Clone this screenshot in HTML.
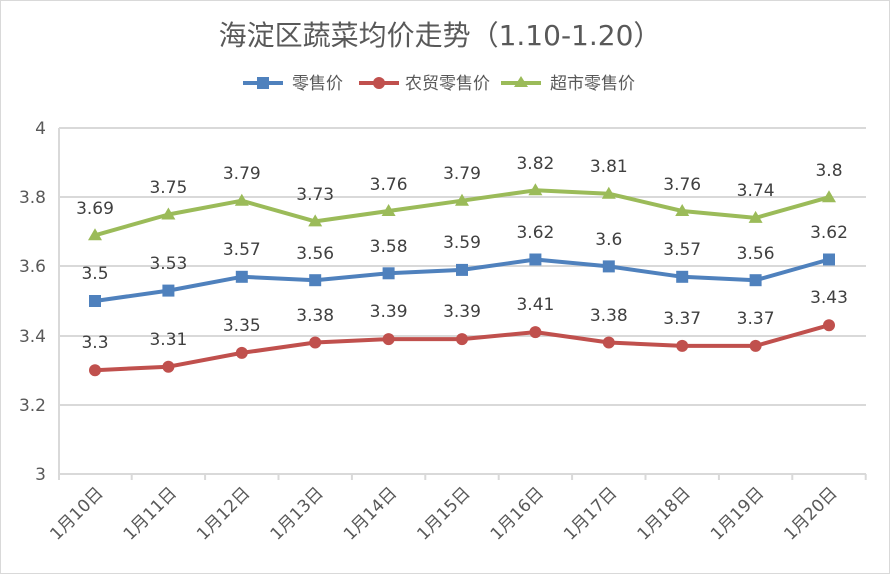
<!DOCTYPE html>
<html><head><meta charset="utf-8"><style>
html,body{margin:0;padding:0;background:#fff;}
svg{display:block;font-family:"DejaVu Sans","Liberation Sans","Noto Sans CJK SC",sans-serif;}
</style></head><body>
<svg width="890" height="574" viewBox="0 0 890 574">
<rect x="0.5" y="0.5" width="889" height="573" fill="#fff" stroke="#d9d9d9"/>
<text x="440" y="45" text-anchor="middle" font-size="28" fill="#595959" font-family="'DejaVu Sans','Noto Sans CJK SC',sans-serif">海淀区蔬菜均价走势（1.10-1.20）</text>
<g font-size="17" fill="#595959" font-family="'Noto Sans CJK SC',sans-serif">
<line x1="243" y1="83" x2="283" y2="83" stroke="#4f81bd" stroke-width="4"/><rect x="257" y="77" width="12" height="12" fill="#4f81bd"/>
<text x="292" y="89">零售价</text>
<line x1="359" y1="83" x2="399" y2="83" stroke="#c0504d" stroke-width="4"/><circle cx="379" cy="83" r="6" fill="#c0504d"/>
<text x="405" y="89">农贸零售价</text>
<line x1="501" y1="83" x2="541" y2="83" stroke="#9bbb59" stroke-width="4"/><polygon points="521,76 528,87 514,87" fill="#9bbb59"/>
<text x="550" y="89">超市零售价</text>
</g>
<g stroke="#d9d9d9" stroke-width="2">
<line x1="59" y1="128" x2="866" y2="128"/><line x1="59" y1="197" x2="866" y2="197"/>
<line x1="59" y1="266" x2="866" y2="266"/><line x1="59" y1="336" x2="866" y2="336"/>
<line x1="59" y1="405" x2="866" y2="405"/><line x1="59" y1="474" x2="866" y2="474"/>
<line x1="59" y1="128" x2="59" y2="480"/>
<line x1="131.7" y1="474" x2="131.7" y2="480"/><line x1="205.1" y1="474" x2="205.1" y2="480"/>
<line x1="278.5" y1="474" x2="278.5" y2="480"/><line x1="351.9" y1="474" x2="351.9" y2="480"/>
<line x1="425.3" y1="474" x2="425.3" y2="480"/><line x1="498.7" y1="474" x2="498.7" y2="480"/>
<line x1="572.1" y1="474" x2="572.1" y2="480"/><line x1="645.5" y1="474" x2="645.5" y2="480"/>
<line x1="718.9" y1="474" x2="718.9" y2="480"/><line x1="792.3" y1="474" x2="792.3" y2="480"/>
<line x1="865.7" y1="474" x2="865.7" y2="480"/>
</g>
<g font-size="17" fill="#595959" text-anchor="end">
<text x="46" y="134">4</text><text x="46" y="203">3.8</text><text x="46" y="272">3.6</text>
<text x="46" y="342">3.4</text><text x="46" y="411">3.2</text><text x="46" y="480">3</text>
</g>
<g font-size="17" fill="#595959" text-anchor="end" font-family="'DejaVu Sans','Noto Sans CJK SC',sans-serif">
<text transform="translate(104,494) rotate(-45)">1月10日</text>
<text transform="translate(177.4,494) rotate(-45)">1月11日</text>
<text transform="translate(250.8,494) rotate(-45)">1月12日</text>
<text transform="translate(324.2,494) rotate(-45)">1月13日</text>
<text transform="translate(397.6,494) rotate(-45)">1月14日</text>
<text transform="translate(471,494) rotate(-45)">1月15日</text>
<text transform="translate(544.4,494) rotate(-45)">1月16日</text>
<text transform="translate(617.8,494) rotate(-45)">1月17日</text>
<text transform="translate(691.2,494) rotate(-45)">1月18日</text>
<text transform="translate(764.6,494) rotate(-45)">1月19日</text>
<text transform="translate(838,494) rotate(-45)">1月20日</text>
</g>
<g fill="none" stroke-width="4" stroke-linejoin="round">
<polyline stroke="#9bbb59" points="95,235.3 168.4,214.5 241.8,200.7 315.2,221.4 388.6,211 462,200.7 535.4,190.3 608.8,193.7 682.2,211 755.6,217.9 829,197.2"/>
<polyline stroke="#4f81bd" points="95,301 168.4,290.6 241.8,276.8 315.2,280.2 388.6,273.3 462,269.9 535.4,259.5 608.8,266.4 682.2,276.8 755.6,280.2 829,259.5"/>
<polyline stroke="#c0504d" points="95,370.2 168.4,366.7 241.8,352.9 315.2,342.5 388.6,339.1 462,339.1 535.4,332.1 608.8,342.5 682.2,345.9 755.6,345.9 829,325.2"/>
</g>
<g fill="#9bbb59">
<polygon points="95,228.3 102,240.3 88,240.3"/><polygon points="168.4,207.5 175.4,219.5 161.4,219.5"/>
<polygon points="241.8,193.7 248.8,205.7 234.8,205.7"/><polygon points="315.2,214.4 322.2,226.4 308.2,226.4"/>
<polygon points="388.6,204 395.6,216 381.6,216"/><polygon points="462,193.7 469,205.7 455,205.7"/>
<polygon points="535.4,183.3 542.4,195.3 528.4,195.3"/><polygon points="608.8,186.7 615.8,198.7 601.8,198.7"/>
<polygon points="682.2,204 689.2,216 675.2,216"/><polygon points="755.6,210.9 762.6,222.9 748.6,222.9"/>
<polygon points="829,190.2 836,202.2 822,202.2"/>
</g>
<g fill="#4f81bd">
<rect x="89" y="295" width="12" height="12"/><rect x="162.4" y="284.6" width="12" height="12"/>
<rect x="235.8" y="270.8" width="12" height="12"/><rect x="309.2" y="274.2" width="12" height="12"/>
<rect x="382.6" y="267.3" width="12" height="12"/><rect x="456" y="263.9" width="12" height="12"/>
<rect x="529.4" y="253.5" width="12" height="12"/><rect x="602.8" y="260.4" width="12" height="12"/>
<rect x="676.2" y="270.8" width="12" height="12"/><rect x="749.6" y="274.2" width="12" height="12"/>
<rect x="823" y="253.5" width="12" height="12"/>
</g>
<g fill="#c0504d">
<circle cx="95" cy="370.2" r="6"/><circle cx="168.4" cy="366.7" r="6"/><circle cx="241.8" cy="352.9" r="6"/>
<circle cx="315.2" cy="342.5" r="6"/><circle cx="388.6" cy="339.1" r="6"/><circle cx="462" cy="339.1" r="6"/>
<circle cx="535.4" cy="332.1" r="6"/><circle cx="608.8" cy="342.5" r="6"/><circle cx="682.2" cy="345.9" r="6"/>
<circle cx="755.6" cy="345.9" r="6"/><circle cx="829" cy="325.2" r="6"/>
</g>
<g font-size="17" fill="#404040" text-anchor="middle">
<text x="95" y="214">3.69</text><text x="168.4" y="193">3.75</text><text x="241.8" y="179">3.79</text>
<text x="315.2" y="200">3.73</text><text x="388.6" y="190">3.76</text><text x="462" y="179">3.79</text>
<text x="535.4" y="169">3.82</text><text x="608.8" y="172">3.81</text><text x="682.2" y="190">3.76</text>
<text x="755.6" y="196">3.74</text><text x="829" y="176">3.8</text>
<text x="95" y="279">3.5</text><text x="168.4" y="269">3.53</text><text x="241.8" y="255">3.57</text>
<text x="315.2" y="259">3.56</text><text x="388.6" y="252">3.58</text><text x="462" y="248">3.59</text>
<text x="535.4" y="238">3.62</text><text x="608.8" y="245">3.6</text><text x="682.2" y="255">3.57</text>
<text x="755.6" y="259">3.56</text><text x="829" y="238">3.62</text>
<text x="95" y="348">3.3</text><text x="168.4" y="345">3.31</text><text x="241.8" y="331">3.35</text>
<text x="315.2" y="321">3.38</text><text x="388.6" y="317">3.39</text><text x="462" y="317">3.39</text>
<text x="535.4" y="310">3.41</text><text x="608.8" y="321">3.38</text><text x="682.2" y="324">3.37</text>
<text x="755.6" y="324">3.37</text><text x="829" y="303">3.43</text>
</g>
</svg>
</body></html>
